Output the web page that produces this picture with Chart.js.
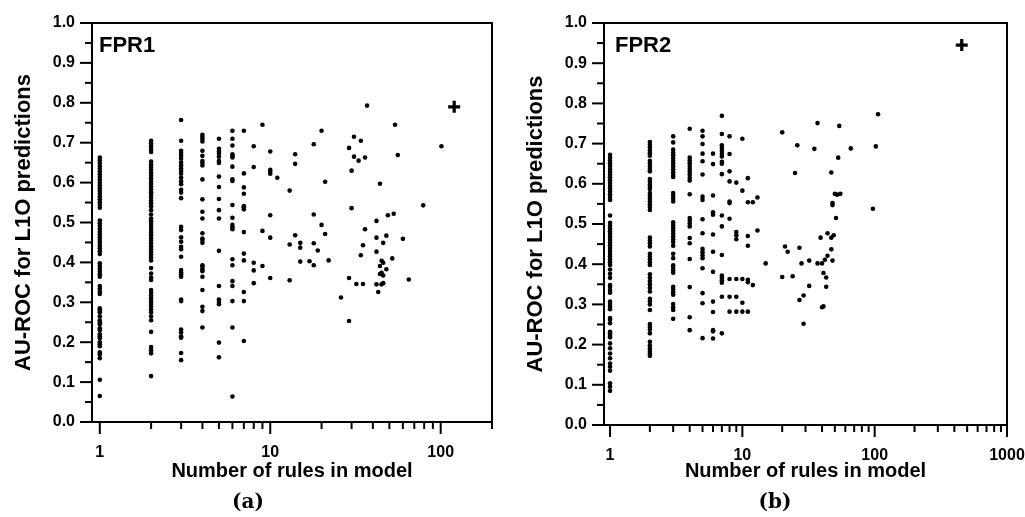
<!DOCTYPE html>
<html><head><meta charset="utf-8">
<script src="https://cdn.jsdelivr.net/npm/chart.js@4.4.1/dist/chart.umd.min.js"></script>
<style>
html,body{margin:0;padding:0;background:#fff;}
#wrap{position:relative;width:1025px;height:517px;overflow:hidden;background:#fff;}
canvas{position:absolute;top:0;}
#ca{left:0;} #cb{left:512px;}
.cap{position:absolute;top:487px;width:80px;text-align:center;font:bold 20px "DejaVu Serif",serif;line-height:28px;color:#000;}
</style></head><body>
<div id="wrap">
<canvas id="ca" width="512" height="517"></canvas>
<canvas id="cb" width="513" height="517"></canvas>
<div class="cap" style="left:208px">(a)</div>
<div class="cap" style="left:735px">(b)</div>
</div>
<script>
// ---------- data ----------
const yTickValues = [0,0.05,0.1,0.15,0.2,0.25,0.3,0.35,0.4,0.45,0.5,0.55,0.6,0.65,0.7,0.75,0.8,0.85,0.9,0.95,1.0];
const xTicksA = [1,2,3,4,5,6,7,8,9,10,20,30,40,50,60,70,80,90,100,200];
const xTicksB = [1,2,3,4,5,6,7,8,9,10,20,30,40,50,60,70,80,90,100,200,300,400,500,600,700,800,900,1000];
const xLabels = [1,10,100,1000];

// FPR1: number of rules per model and AU-ROC values of models with that number of rules
const fpr1Rules = [1,2,3,4,5,6,7,8,9,10,11,13,14,15,17,18,19,20,21,22,26,29,30,31,32,33,34,35,36,37,42,43,44,45,46,48,49,52,53,54,56,60,65,79,101];
const fpr1Auc = [
  [0.663,0.656,0.649,0.642,0.635,0.628,0.621,0.614,0.607,0.600,0.593,0.586,0.579,0.572,0.565,0.558,0.551,0.544,0.537,0.505,0.498,0.491,0.484,0.477,0.470,0.463,0.456,0.449,0.442,0.435,0.428,0.421,0.398,0.391,0.384,0.377,0.370,0.364,0.341,0.334,0.327,0.321,0.285,0.280,0.275,0.265,0.255,0.250,0.245,0.235,0.230,0.220,0.215,0.210,0.200,0.195,0.190,0.175,0.170,0.160,0.106,0.065],
  [0.705,0.698,0.691,0.684,0.677,0.653,0.646,0.639,0.632,0.625,0.618,0.611,0.604,0.597,0.590,0.583,0.576,0.569,0.562,0.555,0.548,0.541,0.531,0.520,0.510,0.503,0.496,0.489,0.482,0.475,0.468,0.461,0.454,0.447,0.440,0.433,0.426,0.419,0.412,0.405,0.386,0.372,0.362,0.356,0.331,0.324,0.317,0.310,0.303,0.296,0.289,0.282,0.275,0.265,0.255,0.226,0.188,0.180,0.172,0.115],
  [0.757,0.705,0.680,0.674,0.667,0.660,0.650,0.643,0.636,0.629,0.622,0.612,0.603,0.596,0.582,0.575,0.561,0.489,0.481,0.463,0.452,0.439,0.433,0.414,0.381,0.375,0.370,0.364,0.307,0.303,0.232,0.225,0.215,0.211,0.173,0.155],
  [0.720,0.714,0.709,0.703,0.680,0.667,0.654,0.649,0.643,0.608,0.558,0.527,0.510,0.473,0.460,0.456,0.449,0.393,0.389,0.383,0.378,0.364,0.331,0.289,0.278,0.237],
  [0.710,0.685,0.678,0.672,0.665,0.654,0.649,0.615,0.589,0.559,0.531,0.510,0.429,0.341,0.307,0.301,0.295,0.199,0.162],
  [0.730,0.710,0.693,0.671,0.667,0.663,0.640,0.608,0.604,0.544,0.512,0.494,0.488,0.483,0.408,0.393,0.353,0.341,0.303,0.237,0.064],
  [0.730,0.623,0.588,0.572,0.541,0.538,0.533,0.476,0.422,0.405,0.326,0.303,0.203],
  [0.691,0.639,0.399,0.380,0.348],
  [0.745,0.479,0.391],
  [0.678,0.632,0.628,0.622,0.518,0.462,0.361],
  [0.612],
  [0.580,0.445,0.355],
  [0.671,0.647,0.468],
  [0.449,0.437,0.402],
  [0.403],
  [0.696,0.520,0.448,0.393],
  [0.430],
  [0.730,0.494],
  [0.602,0.471],
  [0.405],
  [0.312],
  [0.687,0.361,0.253],
  [0.630,0.536],
  [0.715,0.665],
  [0.346],
  [0.655],
  [0.705,0.418],
  [0.443,0.346],
  [0.663,0.483],
  [0.793],
  [0.504,0.462,0.427,0.345],
  [0.326],
  [0.597,0.391,0.371],
  [0.404,0.374,0.345],
  [0.449,0.399,0.367,0.348],
  [0.467,0.383],
  [0.518],
  [0.410],
  [0.522],
  [0.745],
  [0.669],
  [0.459],
  [0.357],
  [0.543],
  [0.691]
];

// FPR2
const fpr2Rules = [1,2,3,4,5,6,7,8,9,10,11,12,13,15,20,21,22,24,25,26,27,28,29,32,35,37,39,40,41,42,43,44,47,48,49,50,51,52,53,54,55,66,97,102,106];
const fpr2Auc = [
  [0.672,0.665,0.658,0.651,0.644,0.637,0.630,0.623,0.616,0.609,0.602,0.595,0.588,0.581,0.574,0.567,0.560,0.521,0.503,0.496,0.489,0.482,0.475,0.468,0.461,0.454,0.447,0.440,0.433,0.426,0.419,0.412,0.405,0.398,0.387,0.376,0.366,0.348,0.344,0.336,0.329,0.307,0.301,0.295,0.288,0.266,0.262,0.253,0.232,0.228,0.224,0.218,0.203,0.191,0.178,0.166,0.153,0.145,0.135,0.104,0.095,0.085],
  [0.704,0.697,0.690,0.683,0.676,0.670,0.657,0.650,0.643,0.637,0.631,0.612,0.605,0.598,0.592,0.587,0.577,0.570,0.563,0.556,0.549,0.542,0.535,0.466,0.459,0.452,0.444,0.426,0.419,0.412,0.405,0.398,0.375,0.366,0.358,0.350,0.341,0.332,0.314,0.307,0.300,0.286,0.251,0.244,0.237,0.228,0.207,0.198,0.190,0.184,0.178,0.172],
  [0.718,0.703,0.685,0.678,0.671,0.664,0.657,0.650,0.643,0.636,0.629,0.622,0.617,0.577,0.570,0.563,0.556,0.504,0.497,0.490,0.483,0.476,0.469,0.462,0.455,0.446,0.426,0.415,0.397,0.391,0.385,0.379,0.344,0.337,0.330,0.324,0.301,0.293,0.286,0.264],
  [0.737,0.665,0.658,0.651,0.644,0.637,0.630,0.623,0.615,0.608,0.574,0.515,0.508,0.501,0.494,0.465,0.452,0.413,0.343,0.268,0.236],
  [0.732,0.718,0.699,0.675,0.656,0.623,0.568,0.560,0.512,0.477,0.438,0.430,0.422,0.415,0.390,0.328,0.303,0.216],
  [0.675,0.649,0.571,0.529,0.523,0.474,0.431,0.381,0.307,0.281,0.236,0.233,0.215],
  [0.769,0.724,0.696,0.689,0.682,0.675,0.668,0.655,0.650,0.624,0.521,0.494,0.423,0.372,0.366,0.360,0.354,0.319,0.228],
  [0.718,0.674,0.631,0.606,0.556,0.552,0.513,0.363,0.319,0.282],
  [0.603,0.480,0.472,0.462,0.363,0.319,0.282],
  [0.712,0.583,0.363,0.304,0.282],
  [0.614,0.554,0.470,0.446,0.361,0.355,0.282],
  [0.554,0.348],
  [0.566,0.484],
  [0.402],
  [0.728,0.368],
  [0.444],
  [0.431],
  [0.370],
  [0.627],
  [0.696],
  [0.441,0.311],
  [0.402],
  [0.322,0.252],
  [0.409,0.346],
  [0.687],
  [0.751,0.402],
  [0.466],
  [0.402,0.293],
  [0.378,0.295],
  [0.411],
  [0.367,0.344],
  [0.477,0.421],
  [0.466,0.437,0.628],
  [0.409,0.552,0.547],
  [0.472],
  [0.575],
  [0.515],
  [0.573],
  [0.665],
  [0.744],
  [0.575],
  [0.688],
  [0.538],
  [0.693],
  [0.773]
];

// final (marked "+") models
const finalRules = [120, 455];
const finalAuc = [0.79, 0.945];
const panelNames = ['FPR1', 'FPR2'];

// ---------- chart ----------
const FONT = '"Liberation Sans", Arial, sans-serif';
Chart.defaults.font.family = FONT;
Chart.defaults.color = '#000';

function toPoints(rules, auc) {
  const pts = [];
  rules.forEach((r, i) => auc[i].forEach(v => pts.push({x: r, y: v})));
  return pts;
}

function makeChart(id, rules, auc, fRule, fAuc, xMax, xTicks, rightPad, xHeight, label, dx) {
  const framePlugin = {
    id: 'frame_' + id,
    afterDraw(chart) {
      const ctx = chart.ctx, a = chart.chartArea;
      const xs = chart.scales.x, ys = chart.scales.y;
      ctx.save();
      ctx.fillStyle = '#000';
      // top and right frame lines
      ctx.fillRect(a.left - 1, a.top - 1, a.right - a.left + 2, 2);
      ctx.fillRect(a.right - 1, a.top - 1, 2, a.bottom - a.top + 2);
      // tick marks (major long, minor short)
      for (const v of xTicks) {
        const px = xs.getPixelForValue(v);
        const L = xLabels.includes(v) ? 12 : 7;
        ctx.fillRect(px - 1, a.bottom, 2, L);
      }
      yTickValues.forEach((v, i) => {
        const py = ys.getPixelForValue(v);
        const L = i % 2 === 0 ? 12 : 7;
        ctx.fillRect(a.left - L, py - 1, L, 2);
      });
      ctx.font = 'bold 22px ' + FONT;
      ctx.textBaseline = 'alphabetic';
      ctx.textAlign = 'left';
      ctx.fillText(label, a.left + dx, a.top + 29);
      ctx.restore();
    }
  };
  return new Chart(document.getElementById(id), {
    type: 'scatter',
    data: {
      datasets: [
        {data: toPoints(rules, auc), pointRadius: 2.3, pointBackgroundColor: '#000', pointBorderWidth: 0},
        {data: [{x: fRule, y: fAuc}], pointStyle: 'cross', pointRadius: 6, pointBorderWidth: 3.2, pointBorderColor: '#000'}
      ]
    },
    options: {
      responsive: false, animation: false, events: [],
      layout: {padding: {left: 0, right: rightPad, top: 23, bottom: 28}},
      plugins: {legend: {display: false}, tooltip: {enabled: false}},
      scales: {
        x: {
          type: 'logarithmic', min: 0.9, max: xMax,
          afterBuildTicks: s => { s.ticks = xTicks.map(v => ({value: v, major: xLabels.includes(v)})); },
          afterFit: s => { s.height = xHeight; s.paddingLeft = 0; s.paddingRight = 0; },
          grid: {display: true, drawOnChartArea: false, drawTicks: true, tickLength: 12, color: 'rgba(0,0,0,0)', tickColor: 'rgba(0,0,0,0)', tickWidth: 2},
          border: {display: true, color: '#000', width: 2},
          ticks: {autoSkip: false, maxRotation: 0, padding: 9, font: {size: 16, weight: 'bold'}, callback: (v) => xLabels.includes(v) ? String(v) : ''},
          title: {display: true, text: 'Number of rules in model', font: {size: 20, weight: 'bold'}, padding: {top: 0, bottom: 6}}
        },
        y: {
          type: 'linear', min: 0, max: 1,
          afterBuildTicks: s => { s.ticks = yTickValues.map((v, i) => ({value: v, major: i % 2 === 0})); },
          afterFit: s => { s.width = 92; s.paddingTop = 0; s.paddingBottom = 0; },
          grid: {display: true, drawOnChartArea: false, drawTicks: true, tickLength: 12, color: 'rgba(0,0,0,0)', tickColor: 'rgba(0,0,0,0)', tickWidth: 2},
          border: {display: true, color: '#000', width: 2},
          ticks: {autoSkip: false, padding: 5, font: {size: 16, weight: 'bold'}, callback: (v, i) => i % 2 === 0 ? v.toFixed(1) : ''},
          title: {display: true, text: 'AU-ROC for L1O predictions', font: {size: 22, weight: 'bold'}, padding: {top: 11, bottom: 0}}
        }
      }
    },
    plugins: [framePlugin]
  });
}

makeChart('ca', fpr1Rules, fpr1Auc, finalRules[0], finalAuc[0], 200, xTicksA, 20, 67, panelNames[0], 7);
makeChart('cb', fpr2Rules, fpr2Auc, finalRules[1], finalAuc[1], 1000, xTicksB, 18, 64, panelNames[1], 11);
</script>
</body></html>
